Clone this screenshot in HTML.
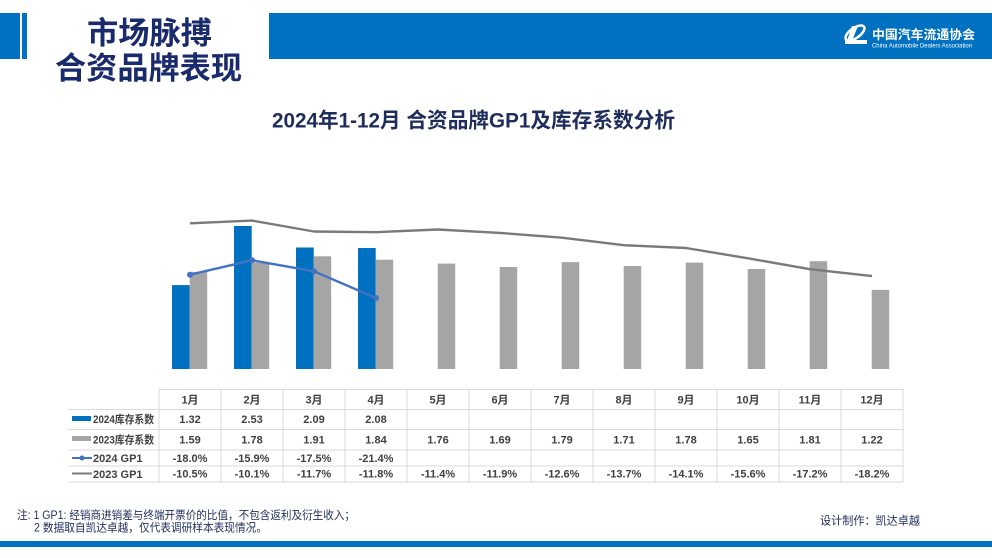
<!DOCTYPE html>
<html><head><meta charset="utf-8"><style>
html,body{margin:0;padding:0;background:#fff;}
svg{display:block;}
text{font-family:"Liberation Sans","Noto Sans CJK SC",sans-serif;}
.cjk{font-family:"Noto Sans CJK SC","Liberation Sans",sans-serif;}
.t{font-size:11px;font-weight:bold;fill:#404040;text-anchor:middle;}
.l{font-size:11px;font-weight:bold;fill:#404040;}
</style></head><body>
<svg width="992" height="558" viewBox="0 0 992 558" xmlns="http://www.w3.org/2000/svg">
<rect width="992" height="558" fill="#fff"/>
<!-- header -->
<rect x="0" y="13" width="20" height="46" fill="#0070C0"/>
<rect x="22" y="13" width="5" height="46" fill="#0070C0"/>
<rect x="269" y="13" width="723" height="46" fill="#0070C0"/>
<text x="149.5" y="44" text-anchor="middle" font-size="31" font-weight="bold" fill="#1a2b6d" class="cjk" textLength="125" lengthAdjust="spacingAndGlyphs">市场脉搏</text>
<text x="148.5" y="79" text-anchor="middle" font-size="31" font-weight="bold" fill="#1a2b6d" class="cjk" textLength="187" lengthAdjust="spacingAndGlyphs">合资品牌表现</text>
<!-- logo -->
<g fill="#fff">
<ellipse cx="855" cy="33" rx="11" ry="5" fill="none" stroke="#fff" stroke-width="2.5" transform="rotate(-35 855 33)"/>
<path d="M852 26 L858 26 L852 41 L847 41 Z"/>
<rect x="845" y="40" width="22" height="4"/>
</g>
<text x="872" y="39" font-size="12.5" font-weight="bold" fill="#fff" class="cjk" textLength="103" lengthAdjust="spacingAndGlyphs">中国汽车流通协会</text>
<text x="872" y="47.5" font-size="6" fill="#fff" textLength="100" lengthAdjust="spacingAndGlyphs">China Automobile Dealers Association</text>
<!-- chart title -->
<text x="473.5" y="127.5" text-anchor="middle" font-size="21" font-weight="bold" fill="#1f2d5c" textLength="403" lengthAdjust="spacingAndGlyphs">2024年1-12月 合资品牌GP1及库存系数分析</text>
<!-- bars 2024 -->
<g fill="#0070C0">
<rect x="172" y="285.1" width="17.7" height="83.9"/>
<rect x="234" y="226.0" width="17.7" height="143.0"/>
<rect x="296" y="247.5" width="17.7" height="121.5"/>
<rect x="358" y="248.0" width="17.7" height="121.0"/>
</g>
<!-- bars 2023 -->
<g fill="#A5A5A5">
<rect x="189.7" y="271.9" width="17.5" height="97.1"/>
<rect x="251.7" y="262.6" width="17.5" height="106.4"/>
<rect x="313.7" y="256.3" width="17.5" height="112.7"/>
<rect x="375.7" y="259.7" width="17.5" height="109.3"/>
<rect x="437.7" y="263.6" width="17.5" height="105.4"/>
<rect x="499.7" y="267.0" width="17.5" height="102.0"/>
<rect x="561.7" y="262.1" width="17.5" height="106.9"/>
<rect x="623.7" y="266.0" width="17.5" height="103.0"/>
<rect x="685.7" y="262.6" width="17.5" height="106.4"/>
<rect x="747.7" y="269.0" width="17.5" height="100.0"/>
<rect x="809.7" y="261.2" width="17.5" height="107.8"/>
<rect x="871.7" y="289.9" width="17.5" height="79.1"/>
</g>
<!-- 2023 GP1 line -->
<polyline fill="none" stroke="#7a7a7a" stroke-width="2.4" stroke-linejoin="round" points="190,223.3 252,220.6 314,231.5 376,232.2 438,229.5 500,232.9 562,237.7 624,245.2 686,248.0 748,258.3 810,269.2 872,276.1"/>
<!-- 2024 GP1 line -->
<polyline fill="none" stroke="#4472C4" stroke-width="2.4" stroke-linejoin="round" points="190,274.7 252,260.3 314,271.3 376,298.0"/>
<g fill="#4472C4">
<circle cx="190" cy="274.7" r="3"/>
<circle cx="252" cy="260.3" r="3"/>
<circle cx="314" cy="271.3" r="3"/>
<circle cx="376" cy="298.0" r="3"/>
</g>
<!-- table grid -->
<g stroke="#dadada" stroke-width="1">
<line x1="159" y1="389.5" x2="903" y2="389.5"/>
<line x1="68" y1="409.5" x2="903" y2="409.5"/>
<line x1="68" y1="429.5" x2="903" y2="429.5"/>
<line x1="68" y1="450" x2="903" y2="450"/>
<line x1="68" y1="466" x2="903" y2="466"/>
<line x1="68" y1="482" x2="903" y2="482"/>
<line x1="159" y1="389" x2="159" y2="482"/>
<line x1="221" y1="389" x2="221" y2="482"/>
<line x1="283" y1="389" x2="283" y2="482"/>
<line x1="345" y1="389" x2="345" y2="482"/>
<line x1="407" y1="389" x2="407" y2="482"/>
<line x1="469" y1="389" x2="469" y2="482"/>
<line x1="531" y1="389" x2="531" y2="482"/>
<line x1="593" y1="389" x2="593" y2="482"/>
<line x1="655" y1="389" x2="655" y2="482"/>
<line x1="717" y1="389" x2="717" y2="482"/>
<line x1="779" y1="389" x2="779" y2="482"/>
<line x1="841" y1="389" x2="841" y2="482"/>
<line x1="903" y1="389" x2="903" y2="482"/>
</g>
<!-- legend column -->
<rect x="72" y="416" width="19" height="5" fill="#0070C0"/>
<rect x="72" y="436" width="19" height="5" fill="#A5A5A5"/>
<line x1="72" y1="458" x2="92" y2="458" stroke="#4472C4" stroke-width="2"/>
<circle cx="82" cy="458" r="2.5" fill="#4472C4"/>
<line x1="72" y1="473.5" x2="92" y2="473.5" stroke="#7a7a7a" stroke-width="2"/>
<text class="l" x="93" y="423" textLength="61" lengthAdjust="spacingAndGlyphs">2024库存系数</text>
<text class="l" x="93" y="443.5" textLength="61" lengthAdjust="spacingAndGlyphs">2023库存系数</text>
<text class="l" x="93" y="462">2024 GP1</text>
<text class="l" x="93" y="478">2023 GP1</text>
<!-- header row -->
<g class="t">
<text class="t" x="190" y="403.5">1月</text>
<text class="t" x="252" y="403.5">2月</text>
<text class="t" x="314" y="403.5">3月</text>
<text class="t" x="376" y="403.5">4月</text>
<text class="t" x="438" y="403.5">5月</text>
<text class="t" x="500" y="403.5">6月</text>
<text class="t" x="562" y="403.5">7月</text>
<text class="t" x="624" y="403.5">8月</text>
<text class="t" x="686" y="403.5">9月</text>
<text class="t" x="748" y="403.5">10月</text>
<text class="t" x="810" y="403.5">11月</text>
<text class="t" x="872" y="403.5">12月</text>
</g>
<!-- row 2024 inventory -->
<text class="t" x="190" y="423">1.32</text>
<text class="t" x="252" y="423">2.53</text>
<text class="t" x="314" y="423">2.09</text>
<text class="t" x="376" y="423">2.08</text>
<!-- row 2023 inventory -->
<text class="t" x="190" y="443.5">1.59</text>
<text class="t" x="252" y="443.5">1.78</text>
<text class="t" x="314" y="443.5">1.91</text>
<text class="t" x="376" y="443.5">1.84</text>
<text class="t" x="438" y="443.5">1.76</text>
<text class="t" x="500" y="443.5">1.69</text>
<text class="t" x="562" y="443.5">1.79</text>
<text class="t" x="624" y="443.5">1.71</text>
<text class="t" x="686" y="443.5">1.78</text>
<text class="t" x="748" y="443.5">1.65</text>
<text class="t" x="810" y="443.5">1.81</text>
<text class="t" x="872" y="443.5">1.22</text>
<!-- row 2024 GP1 -->
<text class="t" x="190" y="462">-18.0%</text>
<text class="t" x="252" y="462">-15.9%</text>
<text class="t" x="314" y="462">-17.5%</text>
<text class="t" x="376" y="462">-21.4%</text>
<!-- row 2023 GP1 -->
<text class="t" x="190" y="477.5">-10.5%</text>
<text class="t" x="252" y="477.5">-10.1%</text>
<text class="t" x="314" y="477.5">-11.7%</text>
<text class="t" x="376" y="477.5">-11.8%</text>
<text class="t" x="438" y="477.5">-11.4%</text>
<text class="t" x="500" y="477.5">-11.9%</text>
<text class="t" x="562" y="477.5">-12.6%</text>
<text class="t" x="624" y="477.5">-13.7%</text>
<text class="t" x="686" y="477.5">-14.1%</text>
<text class="t" x="748" y="477.5">-15.6%</text>
<text class="t" x="810" y="477.5">-17.2%</text>
<text class="t" x="872" y="477.5">-18.2%</text>
<!-- footer notes -->
<text x="17" y="519" font-size="11.5" fill="#1f2d5c" textLength="338" lengthAdjust="spacingAndGlyphs">注: 1 GP1: 经销商进销差与终端开票价的比值，不包含返利及衍生收入；</text>
<text x="34" y="531.5" font-size="11.5" fill="#1f2d5c" textLength="233" lengthAdjust="spacingAndGlyphs">2 数据取自凯达卓越，仅代表调研样本表现情况。</text>
<text x="820" y="524.5" font-size="11.5" fill="#1f2d5c" textLength="100" lengthAdjust="spacingAndGlyphs">设计制作：凯达卓越</text>
<rect x="0" y="541" width="992" height="6" fill="#0070C0"/>
</svg>
</body></html>
